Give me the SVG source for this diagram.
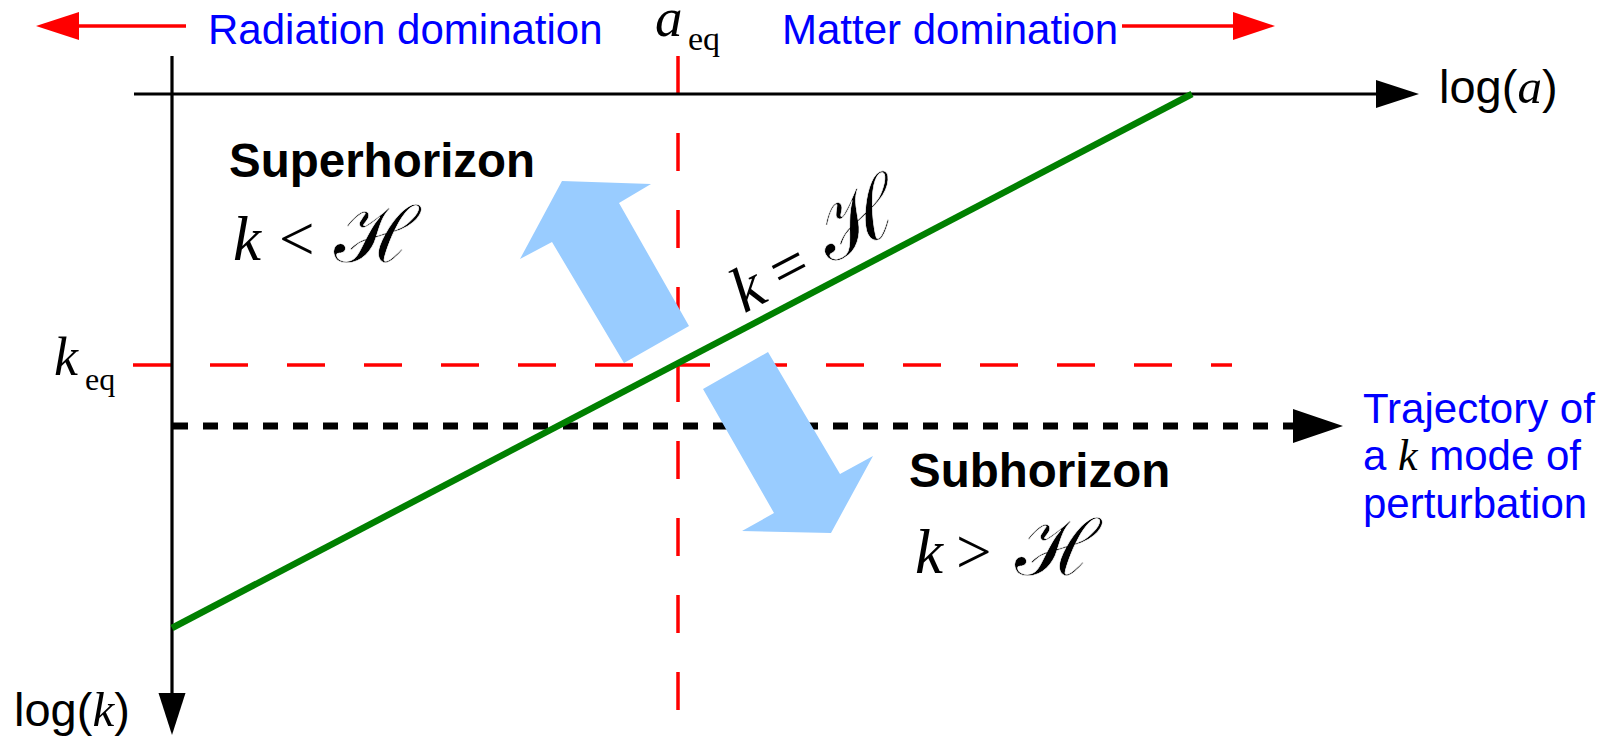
<svg xmlns="http://www.w3.org/2000/svg" width="1615" height="737" viewBox="0 0 1615 737">
<style>
.ax{stroke:#000;stroke-width:3.2;fill:none}
.rdash{stroke:#f00;stroke-width:3.5;stroke-dasharray:38 39;fill:none}
.bdash{stroke:#000;stroke-width:7;stroke-dasharray:15 15;fill:none}
.rarr{stroke:#f00;stroke-width:3.5;fill:none}
.blue{font-family:"Liberation Sans",Arial,sans-serif;font-size:42px;fill:#00f}
.blk{font-family:"Liberation Sans",Arial,sans-serif;font-size:47px;fill:#000}
.bold{font-family:"Liberation Sans",Arial,sans-serif;font-size:47.5px;font-weight:bold;fill:#000}
.math{font-family:"Liberation Serif","Times New Roman",serif;fill:#000}
.it{font-style:italic}
.scr{font-family:"DejaVu Serif",serif;font-style:normal;fill:#000;stroke:#fff;stroke-width:0.6}
.barrow{fill:#99ccff}
</style>
<g id="connectors">
  <line class="rdash" x1="678" y1="56" x2="678" y2="711"/>
  <line class="rdash" x1="133" y1="365" x2="1232" y2="365"/>
  <line class="ax" x1="134" y1="94" x2="1378" y2="94"/>
  <polygon points="1376,80 1419,94 1376,108" fill="#000"/>
  <line class="ax" x1="172" y1="56" x2="172" y2="695"/>
  <polygon points="158.5,693 185.5,693 172,735" fill="#000"/>
  <line class="bdash" x1="173" y1="426" x2="1295" y2="426"/>
  <polygon points="1293,409 1343,426 1293,443" fill="#000"/>
  <line x1="172" y1="628" x2="1192" y2="94" stroke="#008000" stroke-width="6.5"/>
  <line class="rarr" x1="77" y1="26" x2="186" y2="26"/>
  <polygon points="36,26 79,12 79,40" fill="#f00"/>
  <line class="rarr" x1="1122" y1="26" x2="1235" y2="26"/>
  <polygon points="1233,12 1275,26 1233,40" fill="#f00"/>
</g>
<g id="arrow-up">
  <polygon class="barrow" points="562,181 651,184 619,203 689,326 624,363 552,242 520,259"/>
</g>
<g id="arrow-down">
  <polygon class="barrow" points="703,389 768,352 840,474 873,456 831,533 742,531 774,513"/>
</g>
<g id="label-radiation"><text class="blue" x="208" y="44">Radiation domination</text></g>
<g id="label-matter"><text class="blue" x="782" y="44">Matter domination</text></g>
<g id="label-aeq"><text class="math"><tspan class="it" x="655" y="36" font-size="55">a</tspan><tspan x="688" y="50" font-size="34">eq</tspan></text></g>
<g id="label-loga"><text class="blk" x="1439" y="103">log(<tspan class="math it" font-size="49">a</tspan>)</text></g>
<g id="label-keq"><text class="math"><tspan class="it" x="54" y="375" font-size="54">k</tspan><tspan x="85" y="390" font-size="32">eq</tspan></text></g>
<g id="label-logk"><text class="blk" x="14" y="726" font-size="47">log(<tspan class="math it" font-size="49">k</tspan>)</text></g>
<g id="superhorizon">
  <text class="bold" x="229" y="177">Superhorizon</text>
  <text class="math" y="260" font-size="63"><tspan class="it" x="233">k</tspan><tspan x="279">&lt;</tspan></text>
  <text class="scr" x="334" y="262" font-size="78" textLength="86" lengthAdjust="spacingAndGlyphs">ℋ</text>
</g>
<g id="subhorizon">
  <text class="bold" x="909" y="487">Subhorizon</text>
  <text class="math" y="573" font-size="63"><tspan class="it" x="915">k</tspan><tspan x="956">&gt;</tspan></text>
  <text class="scr" x="1015" y="575" font-size="78" textLength="86" lengthAdjust="spacingAndGlyphs">ℋ</text>
</g>
<g id="label-horizon" transform="rotate(-27.6 747 312)">
  <text class="math" y="312" font-size="64"><tspan class="it" x="744">k</tspan><tspan x="787">=</tspan></text>
  <text class="scr" x="844" y="308" font-size="80" textLength="90" lengthAdjust="spacingAndGlyphs">ℋ</text>
</g>
<g id="label-trajectory">
  <text class="blue" x="1363" y="423">Trajectory of</text>
  <text class="blue" x="1363" y="470">a <tspan class="math it" fill="#00f" font-size="44">k</tspan> mode of</text>
  <text class="blue" x="1363" y="518">perturbation</text>
</g>
</svg>
